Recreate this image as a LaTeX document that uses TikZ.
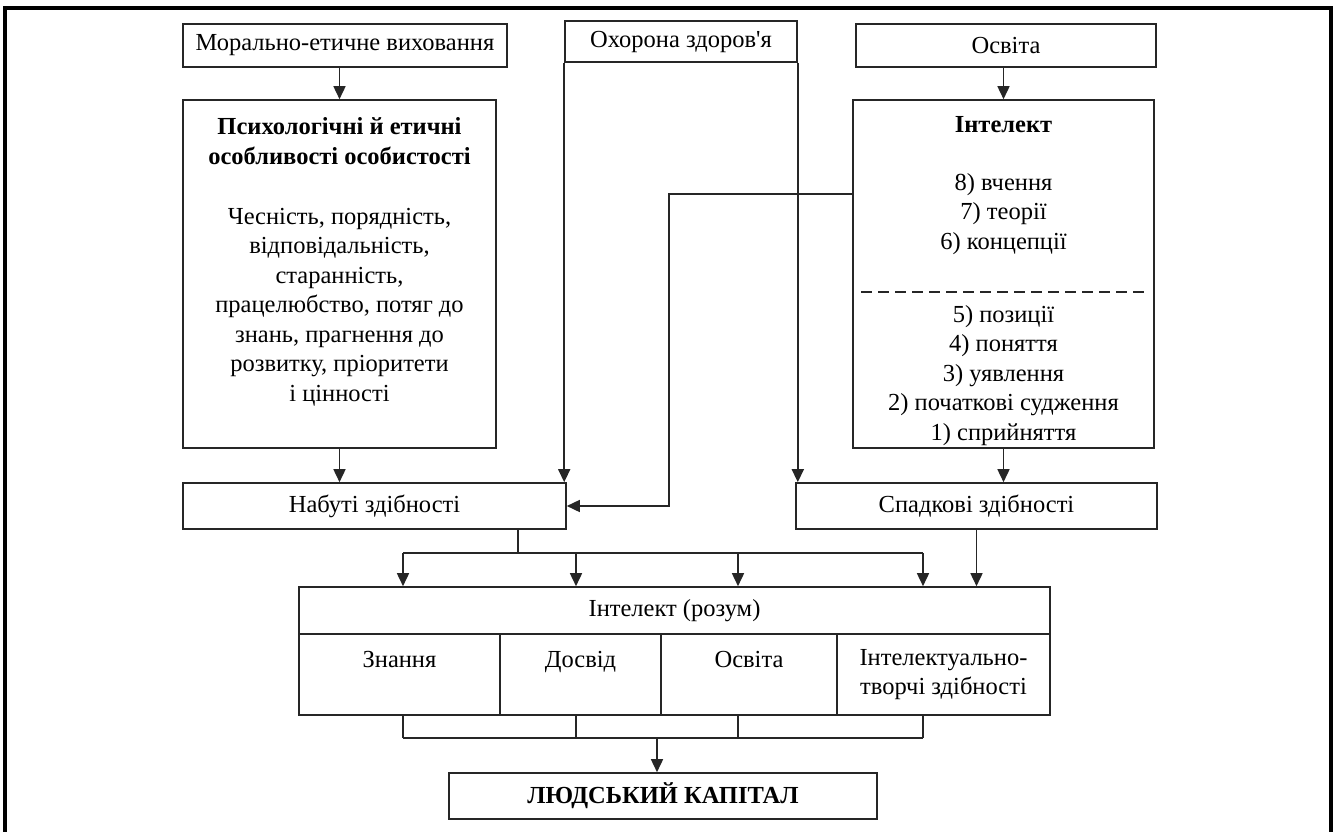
\documentclass[tikz,border=0pt]{standalone}
\usepackage{fontspec}
\setmainfont{Liberation Serif}
\usetikzlibrary{arrows.meta}

\tikzset{
  box/.style={draw=black!85, line width=1.6pt, align=center, inner sep=0pt},
  arr/.style={draw=black!85, line width=1.6pt, -{Triangle[length=13pt,width=12pt]}},
  ln/.style={draw=black!85, line width=1.6pt},
}

\begin{document}
\begin{tikzpicture}[x=1pt,y=-1pt,font=\fontsize{24.5}{29.5}\selectfont]
\useasboundingbox (0,0) rectangle (1336,832);
\draw[line width=4pt] (5,845) -- (5,8) -- (1331,8) -- (1331,845);

% top row
\node[box, minimum width=324, minimum height=43] (moral) at (345,45.5) {Морально-етичне виховання};
\node[box, minimum width=232, minimum height=41] (health) at (681,41.5) {Охорона здоров\textquotesingle я};
\node[box, minimum width=300, minimum height=43] (osvita) at (1006,45.5) {Освіта};

% second row
\node[box, minimum width=313, minimum height=348] (psych) at (339.5,274)
  {\textbf{Психологічні й етичні}\\[1pt]\textbf{особливості особистості}\\[30pt]
   Чесність, порядність,\\відповідальність,\\старанність,\\працелюбство, потяг до\\
   знань, прагнення до\\розвитку, пріоритети\\і цінності\\~};
\node[box, minimum width=301, minimum height=348] (intel) at (1003.5,274)
  {\rule{0pt}{30pt}\textbf{Інтелект}\\[28.5pt]8) вчення\\7) теорії\\6) концепції\\[43.5pt]
   5) позиції\\4) поняття\\3) уявлення\\2) початкові судження\\1) сприйняття};
\draw[ln, dash pattern=on 11pt off 6pt] (861,292) -- (1147,292);

% abilities
\node[box, minimum width=383, minimum height=46] (acquired) at (374.5,506) {Набуті здібності};
\node[box, minimum width=361, minimum height=46] (hered) at (976.5,506) {Спадкові здібності};

% intellect (mind)
\node[box, minimum width=751, minimum height=47] (mind) at (674.5,610.5) {Інтелект (розум)};
\node[box, minimum width=201, minimum height=81] (k1) at (399.5,674.5) {Знання\\~};
\node[box, minimum width=161, minimum height=81] (k2) at (580.5,674.5) {Досвід\\~};
\node[box, minimum width=176, minimum height=81] (k3) at (749,674.5) {Освіта\\~};
\node[box, minimum width=213, minimum height=81] (k4) at (943.5,674.5) {Інтелектуально-\\творчі здібності};

\node[box, minimum width=428, minimum height=46] (capital) at (663,796) {\textbf{ЛЮДСЬКИЙ КАПІТАЛ}};

% connectors
\draw[arr] (moral.south -| psych.north) -- (psych.north);
\draw[arr] (osvita.south -| intel.north) -- (intel.north);
\draw[arr] (psych.south) -- (psych.south |- acquired.north);
\draw[arr] (intel.south) -- (intel.south |- hered.north);
\draw[arr] (health.south west) -- (health.south west |- acquired.north);
\draw[arr] (health.south east) -- (health.south east |- hered.north);
\coordinate (bend) at (669,194);
\draw[arr] (bend -| intel.west) -- (bend) |- (acquired.east);

\coordinate (split) at (518,553);
\coordinate (join) at (657,738);
\draw[ln] (split |- acquired.south) -- (split);
\draw[ln] (403,553) -- (923,553);
\draw[ln] (403,738) -- (923,738);
\foreach \x [count=\i] in {403,576,738,923} {
  \coordinate (in\i) at (\x,0 |- mind.north);
  \draw[arr] (in\i |- split) -- (in\i);
  \draw[ln] (in\i |- k1.south) -- (in\i |- join);
}
\draw[arr] (hered.south) -- (hered.south |- mind.north);
\draw[arr] (join) -- (join |- capital.north);
\end{tikzpicture}
\end{document}
